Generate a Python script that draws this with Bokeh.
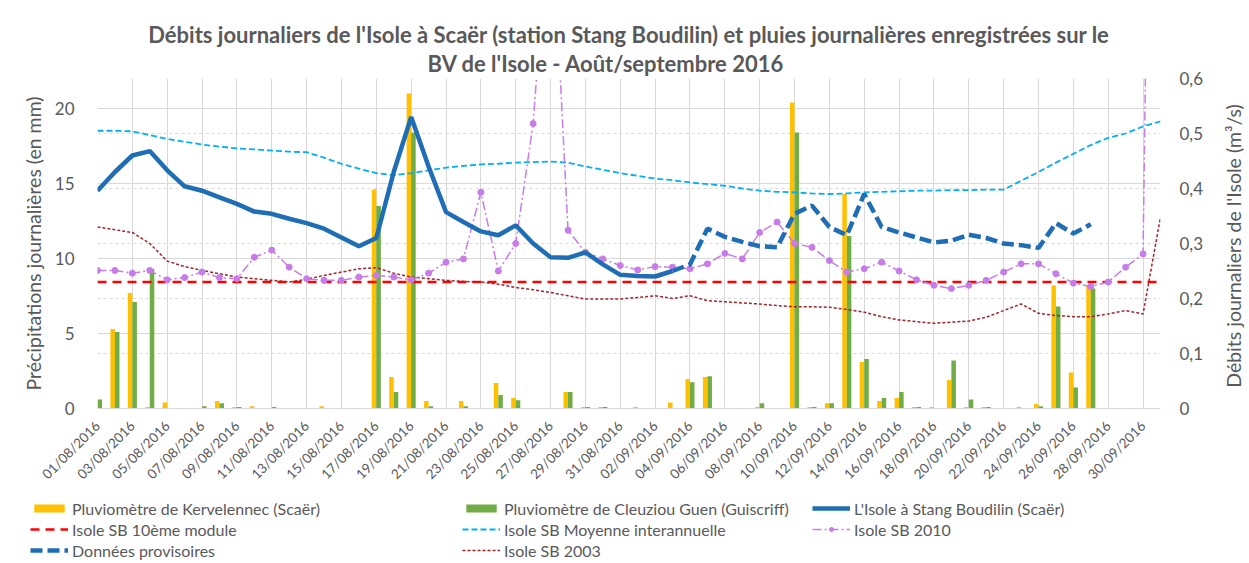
import math
from bokeh.plotting import figure
from bokeh.layouts import column, row
from bokeh.models import (Range1d, LinearAxis, FixedTicker, CustomJSTickFormatter, Grid,
                          Legend, LegendItem, Title, Label, ColumnDataSource)
from bokeh.transform import dodge
from bokeh.embed import file_html
from bokeh.resources import INLINE

# ---------------- data ----------------
dates = [f"{d:02d}/08/2016" for d in range(1, 32)] + [f"{d:02d}/09/2016" for d in range(1, 31)] + ["01/10/2016"]
days = list(range(len(dates)))

# daily rainfall (mm)
rain_kervelennec = [0, 5.3, 7.7, 0.1, 0.4, 0, 0, 0.5, 0.1, 0.15,
                    0, 0, 0, 0.15, 0, 0, 14.6, 2.1, 21.0, 0.5,
                    0, 0.5, 0, 1.7, 0.7, 0, 0, 1.1, 0.1, 0.1,
                    0, 0.1, 0, 0.4, 1.95, 2.1, 0, 0, 0.1, 0,
                    20.4, 0.1, 0.35, 14.3, 3.1, 0.5, 0.7, 0.1, 0.1, 1.9,
                    0.1, 0.1, 0, 0.1, 0.3, 8.2, 2.4, 8.2, 0, 0,
                    0, 0]
rain_cleuziou = [0.6, 5.1, 7.1, 9.3, 0, 0, 0.15, 0.35, 0.1, 0,
                 0.1, 0, 0, 0, 0, 0, 13.5, 1.1, 18.4, 0.15,
                 0, 0.15, 0, 0.9, 0.55, 0, 0, 1.1, 0.1, 0.1,
                 0, 0, 0, 0, 1.75, 2.15, 0, 0, 0.35, 0,
                 18.4, 0.1, 0.35, 11.5, 3.3, 0.7, 1.1, 0.1, 0, 3.2,
                 0.6, 0.1, 0, 0, 0.15, 6.8, 1.4, 8.0, 0, 0,
                 0, 0]

# daily flows (m3/s)
flow_days = days[0:34]
flow_isole = [0.396, 0.43, 0.46, 0.468, 0.433, 0.404, 0.396, 0.384, 0.372, 0.358,
              0.354, 0.345, 0.337, 0.327, 0.311, 0.295, 0.31, 0.43, 0.53, 0.44,
              0.357, 0.339, 0.322, 0.315, 0.333, 0.30, 0.275, 0.274, 0.284, 0.262,
              0.243, 0.241, 0.24, 0.25]
prov_days = days[33:58]
flow_provisoire = [0.25, 0.262, 0.327, 0.312, 0.303, 0.295, 0.293, 0.354, 0.369, 0.33,
                   0.315, 0.39, 0.33, 0.32, 0.311, 0.302, 0.305, 0.316, 0.31, 0.30,
                   0.297, 0.292, 0.337, 0.318, 0.335]
module_10 = 0.23
flow_moyenne = [0.505, 0.505, 0.504, 0.497, 0.49, 0.485, 0.48, 0.476, 0.473, 0.471,
                0.469, 0.467, 0.466, 0.456, 0.445, 0.436, 0.428, 0.424, 0.428, 0.433,
                0.438, 0.441, 0.444, 0.445, 0.447, 0.448, 0.449, 0.447, 0.44, 0.434,
                0.428, 0.423, 0.418, 0.415, 0.411, 0.408, 0.405, 0.40, 0.396, 0.394,
                0.393, 0.391, 0.39, 0.391, 0.393, 0.394, 0.395, 0.396, 0.396, 0.397,
                0.397, 0.398, 0.398, 0.414, 0.43, 0.447, 0.463, 0.479, 0.492, 0.50,
                0.513, 0.522]
flow_2010 = [0.251, 0.251, 0.246, 0.251, 0.234, 0.238, 0.248, 0.238, 0.236, 0.275,
             0.288, 0.257, 0.236, 0.233, 0.233, 0.239, 0.242, 0.239, 0.234, 0.246,
             0.266, 0.272, 0.393, 0.25, 0.30, 0.518, 0.95, 0.324, 0.284, 0.272,
             0.26, 0.252, 0.258, 0.257, 0.254, 0.263, 0.282, 0.272, 0.32, 0.339,
             0.30, 0.293, 0.269, 0.248, 0.254, 0.266, 0.25, 0.234, 0.224, 0.218,
             0.224, 0.233, 0.248, 0.263, 0.263, 0.245, 0.228, 0.222, 0.23, 0.257,
             0.281, 2.7]
flow_2003 = [0.33, 0.325, 0.32, 0.30, 0.268, 0.258, 0.251, 0.245, 0.239, 0.236,
             0.233, 0.23, 0.235, 0.242, 0.248, 0.254, 0.256, 0.246, 0.239, 0.236,
             0.233, 0.231, 0.23, 0.226, 0.22, 0.216, 0.211, 0.205, 0.199, 0.199,
             0.199, 0.202, 0.205, 0.2, 0.205, 0.196, 0.194, 0.192, 0.19, 0.187,
             0.185, 0.185, 0.184, 0.18, 0.175, 0.167, 0.161, 0.158, 0.155, 0.157,
             0.159, 0.166, 0.178, 0.19, 0.173, 0.169, 0.167, 0.167, 0.172, 0.178,
             0.172, 0.348]

title_line1 = "Débits journaliers de l'Isole à Scaër (station Stang Boudilin) et pluies journalières enregistrées sur le"
title_line2 = "BV de l'Isole - Août/septembre 2016"
left_label = "Précipitations journalières (en mm)"
right_label = "Débits journaliers de l'Isole  (m³/s)"
left_ticks = [0, 5, 10, 15, 20]
right_ticks = [0, 0.1, 0.2, 0.3, 0.4, 0.5, 0.6]
x_ticks = days[0:61:2]

FONT = "Lato"
GREY = "#595959"
C_KERV, C_CLEU = "#FFC000", "#70AD47"
C_ISOLE, C_MOD, C_MOY, C_2003, C_2010 = "#1F6EB5", "#FF0000", "#00B0F0", "#A0242A", "#C77CE8"

W_MAIN, W_STRIP = 1217, 30
H_MAIN, H_LEG = 495, 66


def no_align(fig):
    if "frame_align" in fig.properties():
        fig.frame_align = False


def bare(fig):
    """helper strips: no frame alignment, no outline, no grids"""
    no_align(fig)
    fig.outline_line_color = None
    fig.center = []


# ---------------- sources ----------------
rain_src = ColumnDataSource(dict(day=days, kerv=rain_kervelennec, cleu=rain_cleuziou))
isole_src = ColumnDataSource(dict(day=flow_days, q=flow_isole))
prov_src = ColumnDataSource(dict(day=prov_days, q=flow_provisoire))
mod_src = ColumnDataSource(dict(day=[days[0], days[-1]], q=[module_10, module_10]))
ref_src = ColumnDataSource(dict(day=days, moy=flow_moyenne, y2010=flow_2010, y2003=flow_2003))

# ---------------- main figure ----------------
p = figure(width=W_MAIN, height=H_MAIN, x_range=Range1d(days[0], days[-1]), y_range=Range1d(0, 22),
           output_backend="svg", toolbar_location=None,
           min_border_left=97, min_border_right=W_MAIN - 1160, min_border_top=78,
           min_border_bottom=H_MAIN - 408)
no_align(p)
p.outline_line_color = None
p.extra_y_ranges = {"q": Range1d(0, 0.6)}

p.xgrid.grid_line_color = "#D9D9D9"
p.ygrid.grid_line_color = "#D9D9D9"
p.ygrid.ticker = FixedTicker(ticks=left_ticks)
p.add_layout(Grid(dimension=1, ticker=FixedTicker(ticks=right_ticks), y_range_name="q",
                  grid_line_color="#D9D9D9", grid_line_dash="3 3"))

p.xaxis.ticker = FixedTicker(ticks=x_ticks)
p.xaxis.formatter = CustomJSTickFormatter(args=dict(labels=dates),
    code="const i = Math.round(tick); return (i >= 0 && i < labels.length) ? labels[i] : '';")
p.xaxis.major_label_orientation = math.pi / 4
p.xaxis.major_label_text_font = FONT
p.xaxis.major_label_text_font_size = "13.5px"
p.xaxis.major_label_text_color = GREY
p.xaxis.major_label_standoff = 9
p.xaxis.axis_line_color = "#D9D9D9"
p.xaxis.major_tick_line_color = None
p.xaxis.minor_tick_line_color = None

p.yaxis.ticker = FixedTicker(ticks=left_ticks)
p.yaxis.axis_label = left_label
p.yaxis.axis_label_text_font = FONT
p.yaxis.axis_label_text_font_size = "19.5px"
p.yaxis.axis_label_text_font_style = "normal"
p.yaxis.axis_label_text_color = GREY
p.yaxis.axis_label_standoff = 7
p.yaxis.major_label_text_font = FONT
p.yaxis.major_label_text_font_size = "17px"
p.yaxis.major_label_text_color = GREY
p.yaxis.major_label_standoff = 17
p.yaxis.axis_line_color = None
p.yaxis.major_tick_line_color = None
p.yaxis.minor_tick_line_color = None

raxis = LinearAxis(y_range_name="q", ticker=FixedTicker(ticks=right_ticks),
                   formatter=CustomJSTickFormatter(code="return tick == 0 ? '0' : tick.toFixed(1).replace('.', ',');"),
                   major_label_text_font=FONT, major_label_text_font_size="17px",
                   major_label_text_color=GREY, major_label_standoff=13,
                   axis_line_color=None, major_tick_line_color=None, minor_tick_line_color=None)
p.add_layout(raxis, "right")

# titles (inner one added first)
p.add_layout(Title(text=title_line2, align="left", text_font=FONT, text_font_size="22px",
                   text_font_style="bold", text_color=GREY, standoff=4, offset=330), "above")
p.add_layout(Title(text=title_line1, align="center", text_font=FONT, text_font_size="22px",
                   text_font_style="bold", text_color=GREY, standoff=-5), "above")

# bars
p.vbar(x=dodge("day", -0.13, range=p.x_range), top="kerv", width=0.26, source=rain_src,
       fill_color=C_KERV, line_color=None)
p.vbar(x=dodge("day", 0.13, range=p.x_range), top="cleu", width=0.26, source=rain_src,
       fill_color=C_CLEU, line_color=None)

# lines
line_styles = dict(
    mod=dict(line_color=C_MOD, line_width=2.5, line_dash="9 6"),
    moy=dict(line_color=C_MOY, line_width=1.8, line_dash="6 3"),
    y2003=dict(line_color=C_2003, line_width=1.5, line_dash="3 2"),
    y2010=dict(line_color=C_2010, line_width=1.5, line_dash="9 3 2 3"),
    isole=dict(line_color=C_ISOLE, line_width=4.5),
    prov=dict(line_color=C_ISOLE, line_width=4.5, line_dash="12 5"),
)
marker_style = dict(size=6, marker="circle", fill_color=C_2010, line_color=C_2010)


def draw_lines(fig, **kw):
    out = {}
    out["mod"] = fig.line("day", "q", source=mod_src, **kw, **line_styles["mod"])
    out["moy"] = fig.line("day", "moy", source=ref_src, **kw, **line_styles["moy"])
    out["y2003"] = fig.line("day", "y2003", source=ref_src, **kw, **line_styles["y2003"])
    out["y2010"] = fig.line("day", "y2010", source=ref_src, **kw, **line_styles["y2010"])
    out["y2010m"] = fig.scatter("day", "y2010", source=ref_src, **kw, **marker_style)
    out["isole"] = fig.line("day", "q", source=isole_src, **kw, **line_styles["isole"])
    out["prov"] = fig.line("day", "q", source=prov_src, **kw, **line_styles["prov"])
    return out


draw_lines(p, y_range_name="q")

# ---------------- right label strip ----------------
rs = figure(width=W_STRIP, height=H_MAIN, x_range=Range1d(0, 1), y_range=Range1d(0, 1),
            output_backend="svg", toolbar_location=None, x_axis_location=None,
            y_axis_location=None, min_border=0)
bare(rs)
rs.add_layout(Label(x=16, y=H_MAIN - 243, x_units="screen", y_units="screen", text=right_label,
                    angle=math.pi / 2, text_align="center", text_baseline="middle",
                    text_font=FONT, text_font_size="19.5px", text_color=GREY))

# ---------------- legend strip ----------------
lg = figure(width=W_MAIN + W_STRIP, height=H_LEG, x_range=Range1d(-1000, -999),
            y_range=Range1d(-1000, -999), output_backend="svg", toolbar_location=None,
            x_axis_location=None, y_axis_location=None, min_border=0)
bare(lg)

# legend swatches: same series, lying far outside this strip's visible ranges
k_kerv = lg.vbar(x="day", top="kerv", width=0.26, source=rain_src, fill_color=C_KERV, line_color=None)
k_cleu = lg.vbar(x="day", top="cleu", width=0.26, source=rain_src, fill_color=C_CLEU, line_color=None)
k = draw_lines(lg)


def add_legend(items, loc):
    leg = Legend(items=items, location=loc, orientation="vertical",
                 glyph_width=38, glyph_height=10, label_height=20, spacing=1,
                 label_standoff=4, padding=0, margin=0, border_line_color=None,
                 background_fill_alpha=0, label_text_font=FONT, label_text_font_size="16px",
                 label_text_color=GREY)
    lg.add_layout(leg)


add_legend([LegendItem(label="Pluviomètre de Kervelennec (Scaër)", renderers=[k_kerv]),
            LegendItem(label="Isole SB 10ème module", renderers=[k["mod"]]),
            LegendItem(label="Données provisoires", renderers=[k["prov"]])], (30, 1))
add_legend([LegendItem(label="Pluviomètre de Cleuziou Guen (Guiscriff)", renderers=[k_cleu]),
            LegendItem(label="Isole SB Moyenne interannuelle", renderers=[k["moy"]]),
            LegendItem(label="Isole SB 2003", renderers=[k["y2003"]])], (462, 1))
add_legend([LegendItem(label="L'Isole à Stang Boudilin (Scaër)", renderers=[k["isole"]]),
            LegendItem(label="Isole SB 2010", renderers=[k["y2010"], k["y2010m"]])], (812, 22))

layout = column(row(p, rs, spacing=0), lg, spacing=0)
open("out.html", "w").write(file_html(layout, INLINE))
